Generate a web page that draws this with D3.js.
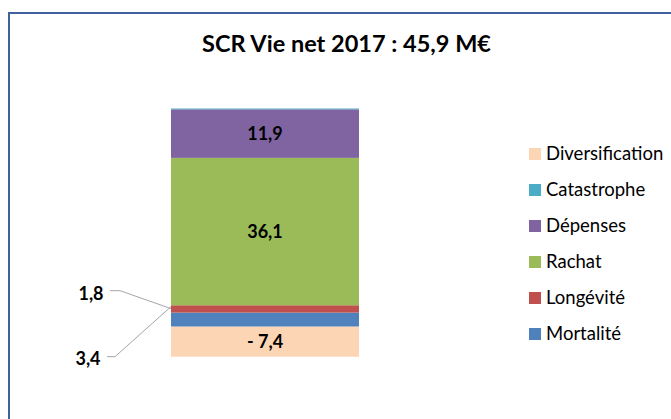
<!DOCTYPE html>
<html>
<head>
<meta charset="utf-8">
<script src="https://cdn.jsdelivr.net/npm/d3@7"></script>
<style>
  html, body { margin: 0; padding: 0; background: #fff; overflow: hidden; }
</style>
</head>
<body>
<svg id="chart" width="671" height="419"></svg>
<script>
// Stack order, bottom to top
const categories = ["Diversification", "Mortalité", "Longévité", "Rachat", "Dépenses", "Catastrophe"];
const values = [-7.4, 3.4, 1.8, 36.1, 11.9, 0.2];
const colors = ["#FCD5B5", "#4F81BD", "#C0504D", "#9BBB59", "#8064A2", "#4BACC6"];
const labels = ["- 7,4", "3,4", "1,8", "36,1", "11,9", ""];
const legendOrder = ["Diversification", "Catastrophe", "Dépenses", "Rachat", "Longévité", "Mortalité"];
const title = "SCR Vie net 2017 : 45,9 M€";

const svg = d3.select("#chart");
const font = "Lato, 'Open Sans', sans-serif";

// frame
svg.append("rect").attr("x", 9).attr("y", 13).attr("width", 700).attr("height", 450)
  .attr("fill", "none").attr("stroke", "#41609E").attr("stroke-width", 2);

svg.append("text").attr("x", 346.5).attr("y", 52.3).attr("text-anchor", "middle")
  .attr("font-family", font).attr("font-weight", "bold").attr("font-size", 23.5)
  .attr("fill", "#000").text(title);

// stacking with magnitudes
const mags = values.map(Math.abs);
const cum = d3.cumsum(mags);
const starts = cum.map((c, i) => c - mags[i]);
const total = cum[cum.length - 1];

const y = d3.scaleLinear().domain([0, total]).range([356.7, 108.5]);
const x = d3.scaleBand().domain(["SCR"]).range([171, 359]).padding(0);

const segs = categories.map((c, i) => ({ c, v: values[i], s: starts[i], e: cum[i], color: colors[i], label: labels[i] }));

svg.append("g").selectAll("rect").data(segs).join("rect")
  .attr("x", x("SCR")).attr("width", x.bandwidth())
  .attr("y", d => y(d.e)).attr("height", d => y(d.s) - y(d.e))
  .attr("fill", d => d.color);

// inside labels
const inside = segs.filter(d => ["Diversification", "Rachat", "Dépenses"].includes(d.c));
svg.append("g").selectAll("text").data(inside).join("text")
  .attr("x", x("SCR") + x.bandwidth() / 2)
  .attr("y", d => (y(d.s) + y(d.e)) / 2)
  .attr("dy", "0.35em").attr("text-anchor", "middle")
  .attr("font-family", font).attr("font-weight", "bold").attr("font-size", 18)
  .attr("fill", "#000").text(d => d.label);

// outside labels with leader lines
const outside = [
  { c: "Longévité", lx: 91, ly: 294, l0: 110, l1: 120 },
  { c: "Mortalité", lx: 88, ly: 359, l0: 107, l1: 115 }
];
outside.forEach(o => {
  const d = segs.find(s => s.c === o.c);
  const ty = o.c === "Longévité" ? y(d.s) - 4 : y(d.e) - 6;
  const ly = o.c === "Longévité" ? 290.7 : 356.7;
  svg.append("polyline")
    .attr("points", `${o.l0},${ly} ${o.l1},${ly} ${x("SCR")},${ty}`)
    .attr("fill", "none").attr("stroke", "#A6A6A6").attr("stroke-width", 1);
  svg.append("text").attr("x", o.lx).attr("y", o.ly).attr("dy", "0.35em")
    .attr("text-anchor", "middle")
    .attr("font-family", font).attr("font-weight", "bold").attr("font-size", 18)
    .attr("fill", "#000").text(d.label);
});

// legend
const lg = svg.append("g");
legendOrder.forEach((c, i) => {
  const idx = categories.indexOf(c);
  const cy = 154 + i * 36;
  lg.append("rect").attr("x", 529).attr("y", cy - 6).attr("width", 12).attr("height", 12)
    .attr("fill", colors[idx]);
  lg.append("text").attr("x", 546).attr("y", cy).attr("dy", "0.35em")
    .attr("font-family", font).attr("font-size", 18.5).attr("fill", "#000").text(c);
});
</script>
</body>
</html>
